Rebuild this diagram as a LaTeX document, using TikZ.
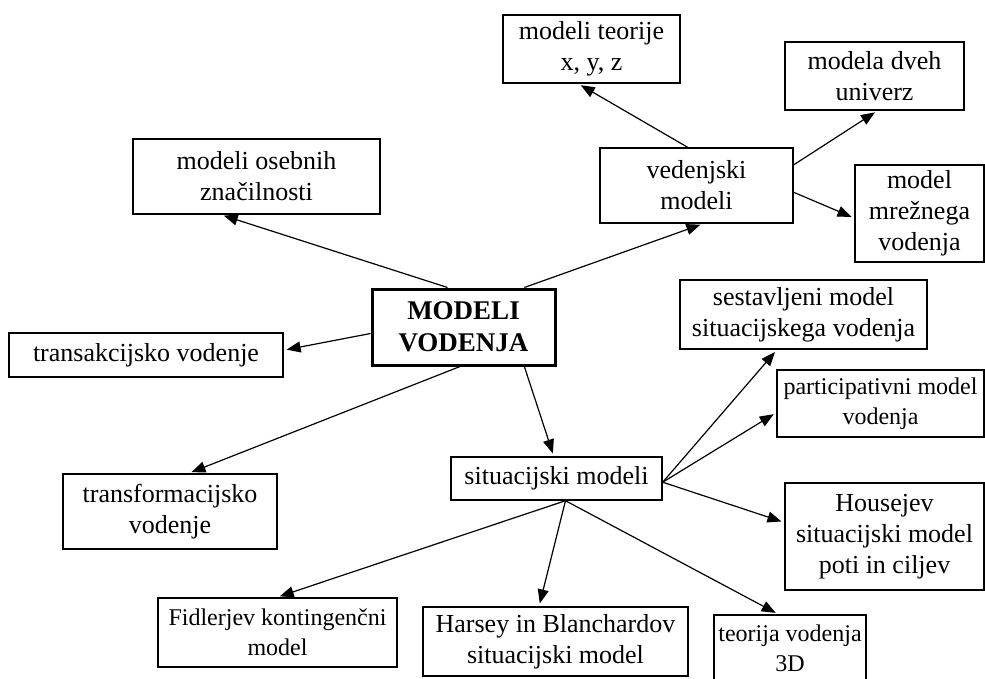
\documentclass[tikz,border=0pt]{standalone}
\usepackage{fontspec}
\setmainfont{Liberation Serif}
\usetikzlibrary{arrows.meta}
\tikzset{
         box/.style={draw, line width=1.4pt, align=center, inner sep=0pt,
                     font=\fontsize{26}{31}\selectfont},
         smallbox/.style={box, font=\fontsize{24}{30}\selectfont},
         mainbox/.style={box, line width=3pt,
                     font=\fontsize{27}{32}\selectfont\bfseries},
         wh/.style 2 args={minimum width=#1, minimum height=#2},
         myarrow/.style={-{Triangle[length=14pt, width=11pt]}, line width=1.2pt,
                     shorten >=3pt},
}

\begin{document}
\begin{tikzpicture}[x=1pt, y=-1pt]
    \useasboundingbox (0,0) rectangle (985,679);

    % Mitte
    \node[mainbox, wh={183pt}{76pt}] (main) at (463.5,327) {MODELI\\VODENJA};

    % Zweige
    \node[box, wh={247pt}{75pt}] (osebne) at (256.5,176.5) {modeli osebnih\\značilnosti};
    \node[box, wh={193pt}{75pt}] (vedenjski) at (696.5,185.5) {vedenjski\\modeli};
    \node[box, wh={274pt}{44pt}] (transakcijsko) at (146,355) {transakcijsko vodenje};
    \node[box, wh={214pt}{75pt}] (transformacijsko) at (170,511.5) {transformacijsko\\vodenje};
    \node[box, wh={211pt}{43pt}] (situacijski) at (556.5,478.5) {situacijski modeli};

    % vedenjski
    \node[box, wh={177pt}{68pt}] (teorije) at (591.5,49) {modeli teorije\\x, y, z};
    \node[box, wh={179pt}{68pt}] (dveh) at (874.5,76) {modela dveh\\univerz};
    \node[box, wh={129pt}{97pt}] (mrezno) at (919.5,213.5) {model\\mrežnega\\vodenja};

    % situacijski
    \node[box, wh={247pt}{69pt}] (sestavljeni) at (803.5,314.5) {sestavljeni model\\situacijskega vodenja};
    \node[smallbox, wh={207pt}{67pt}] (participativni) at (880.5,403.5) {participativni model\\vodenja};
    \node[box, wh={199pt}{107pt}] (housejev) at (884.5,536.5) {Housejev\\situacijski model\\poti in ciljev};
    \node[smallbox, wh={239pt}{69pt}] (fidler) at (277.5,632.5) {Fidlerjev kontingenčni\\model};
    \node[box, wh={265pt}{69pt}] (harsey) at (555.5,641.5) {Harsey in Blanchardov\\situacijski model};
    \node[smallbox, wh={152pt}{66pt}] (tridim) at (790,648) {teorija vodenja\\3D};

    % Pfeile
    \draw[myarrow] (main.112) -- (osebne.227);
    \draw[myarrow] (main.33) -- (vedenjski.280);
    \draw[myarrow] (main.184) -- (transakcijsko.2);
    \draw[myarrow] (main.265) -- (transformacijsko.64);
    \draw[myarrow] (main.327) -- (situacijski.97);

    \draw[myarrow] (vedenjski.103) -- (teorije.249);
    \draw[myarrow] (vedenjski.12) -- (dveh.275);
    \draw[myarrow] (vedenjski.356) -- (mrezno.184);

    \draw[myarrow] (situacijski.358) -- (sestavljeni.233);
    \draw[myarrow] (situacijski.358) -- (participativni.185);
    \draw[myarrow] (situacijski.358) -- (housejev.172);
    \draw[myarrow] (situacijski.292) -- (fidler.91);
    \draw[myarrow] (situacijski.292) -- (harsey.115);
    \draw[myarrow] (situacijski.292) -- (tridim.109);
\end{tikzpicture}
\end{document}
